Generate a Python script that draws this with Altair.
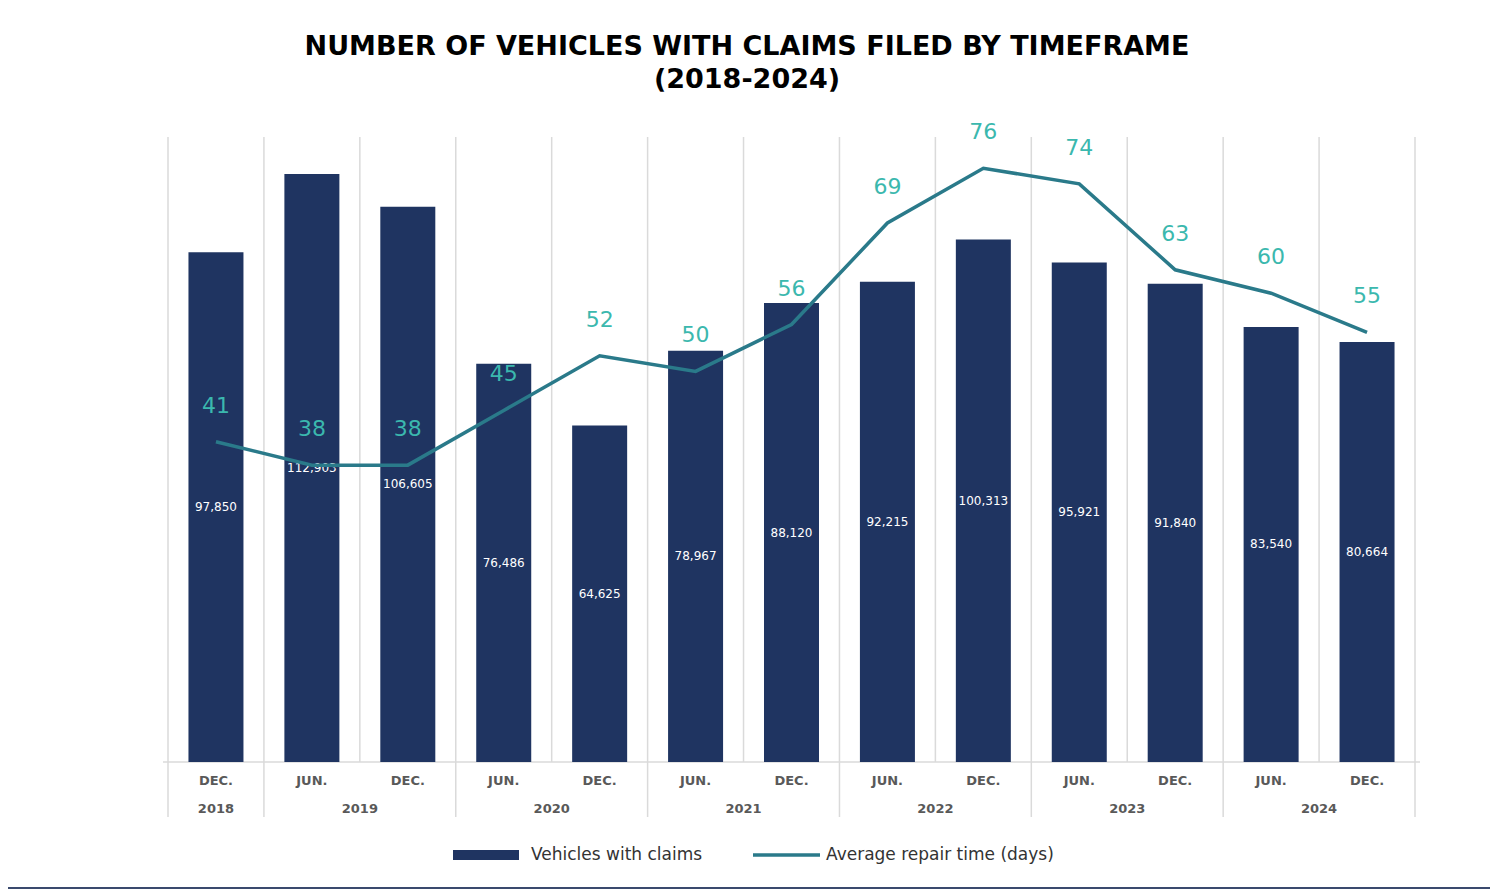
import pandas as pd
import altair as alt

# ── data ─────────────────────────────────────────────────────────────────────
months   = ["DEC.", "JUN.", "DEC.", "JUN.", "DEC.", "JUN.", "DEC.",
            "JUN.", "DEC.", "JUN.", "DEC.", "JUN.", "DEC."]
vehicles = [97850, 112903, 106605, 76486, 64625, 78967, 88120,
            92215, 100313, 95921, 91840, 83540, 80664]
repair   = [41, 38, 38, 45, 52, 50, 56, 69, 76, 74, 63, 60, 55]
years      = ["2018", "2019", "2020", "2021", "2022", "2023", "2024"]
year_first = [0, 1, 3, 5, 7, 9, 11]
year_last  = [0, 2, 4, 6, 8, 10, 12]

# ── colours ──────────────────────────────────────────────────────────────────
BAR   = "#1F3461"
LINE  = "#2A7A8A"
LABEL = "#3BB8AE"
GREY  = "#595959"
GRID  = "#DADADA"
FONT  = "DejaVu Sans"

W, H = 1257, 625

df = pd.DataFrame({"i": range(len(months)), "month": months,
                   "vehicles": vehicles, "repair": repair})
df["half"] = df["vehicles"] / 2
df["vlabel"] = df["vehicles"].map(lambda v: f"{v:,}")

yr = pd.DataFrame({"year": years, "first": year_first, "last": year_last})
yr["mid"] = (yr["first"] + yr["last"]) / 2
seps = pd.DataFrame({"b": [-0.5] + [l + 0.5 for l in year_last]})
grid = pd.DataFrame({"b": [i - 0.5 for i in range(len(months) + 1)]})

xs = alt.Scale(domain=[-0.5, len(months) - 0.5], nice=False, zero=False)
X = alt.X("i:Q", scale=xs, axis=None)
yl = alt.Scale(domain=[0, 120000])
yrs = alt.Scale(domain=[0, 80])

gridlines = alt.Chart(grid).mark_rule(color=GRID, strokeWidth=1.5).encode(
    x=alt.X("b:Q", scale=xs, axis=None), y=alt.value(0), y2=alt.value(H))
baseline = alt.Chart(grid.head(1)).mark_rule(color=GRID, strokeWidth=1.5).encode(
    x=alt.value(0), x2=alt.value(W), y=alt.value(H))
separators = alt.Chart(seps).mark_rule(color=GRID, strokeWidth=1.5).encode(
    x=alt.X("b:Q", scale=xs, axis=None), y=alt.value(H), y2=alt.value(H + 55))

bars = alt.Chart(df).mark_bar(color=BAR, size=55).encode(
    x=X,
    y=alt.Y("vehicles:Q", scale=yl, title=None,
            axis=alt.Axis(values=list(range(0, 120001, 20000)),
                          labelExpr="datum.value == 0 ? '-' : format(datum.value, ',')",
                          labelFontSize=22, labelColor=GREY, labelFont=FONT,
                          grid=False, domain=False, ticks=False, labelPadding=30)),
)
bar_text = alt.Chart(df).mark_text(color="white", fontSize=12, font=FONT).encode(
    x=X, y=alt.Y("half:Q", scale=yl, axis=None), text="vlabel:N")

month_text = alt.Chart(df).mark_text(color=GREY, fontSize=13, font=FONT,
                                     fontWeight="bold").encode(
    x=X, y=alt.value(H + 19), text="month:N")
year_text = alt.Chart(yr).mark_text(color=GREY, fontSize=13, font=FONT,
                                    fontWeight="bold").encode(
    x=alt.X("mid:Q", scale=xs, axis=None), y=alt.value(H + 47), text="year:N")

line = alt.Chart(df).mark_line(color=LINE, strokeWidth=3.5).encode(
    x=X,
    y=alt.Y("repair:Q", scale=yrs, title=None,
            axis=alt.Axis(orient="right", values=list(range(0, 81, 10)),
                          labelFontSize=22, labelColor=GREY, labelFont=FONT,
                          grid=False, domain=False, tickColor=GRID, tickSize=8)),
)
line_text = alt.Chart(df).mark_text(color=LABEL, fontSize=22, font=FONT, dy=-36).encode(
    x=X, y=alt.Y("repair:Q", scale=yrs, axis=None), text="repair:Q")

t1 = alt.Chart(pd.DataFrame({"t": ["NUMBER OF VEHICLES WITH CLAIMS FILED BY TIMEFRAME"]})).mark_text(
    fontSize=27, fontWeight="bold", font=FONT, color="black").encode(
    x=alt.value(584), y=alt.value(-90), text="t:N")
t2 = alt.Chart(pd.DataFrame({"t": ["(2018-2024)"]})).mark_text(
    fontSize=27, fontWeight="bold", font=FONT, color="black").encode(
    x=alt.value(584), y=alt.value(-57), text="t:N")

# ── legend ───────────────────────────────────────────────────────────────────
leg_bar = alt.Chart(df.head(1)).mark_rect(color=BAR).encode(
    x=alt.value(290), x2=alt.value(356), y=alt.value(H + 88), y2=alt.value(H + 98))
leg_line = alt.Chart(df.head(1)).mark_rule(color=LINE, strokeWidth=3.5).encode(
    x=alt.value(590), x2=alt.value(657), y=alt.value(H + 93))
leg_t = alt.Chart(pd.DataFrame({"t": ["Vehicles with claims", "Average repair time (days)"],
                                "px": [368, 663]})).mark_text(
    align="left", fontSize=17, font=FONT, color="#333333").encode(
    x=alt.X("px:Q", scale=None, axis=None), y=alt.value(H + 93), text="t:N")

frame = alt.Chart(df.head(1)).mark_rect(fillOpacity=0, stroke="#3A4A6E", strokeWidth=2).encode(
    x=alt.value(-160), x2=alt.value(W + 72), y=alt.value(-133), y2=alt.value(H + 126))

left = alt.layer(gridlines, baseline, separators, bars, bar_text, month_text, year_text,
                 t1, t2, leg_bar, leg_line, leg_t, frame)
right = alt.layer(line, line_text)

chart = alt.layer(left, right).resolve_scale(y="independent").properties(
    width=W, height=H, autosize="none",
    padding={"left": 155, "top": 129, "right": 70, "bottom": 130},
).configure(background="white", view=alt.ViewConfig(strokeWidth=0))

chart.save("out.html", embed_options={"renderer": "svg", "actions": False})
